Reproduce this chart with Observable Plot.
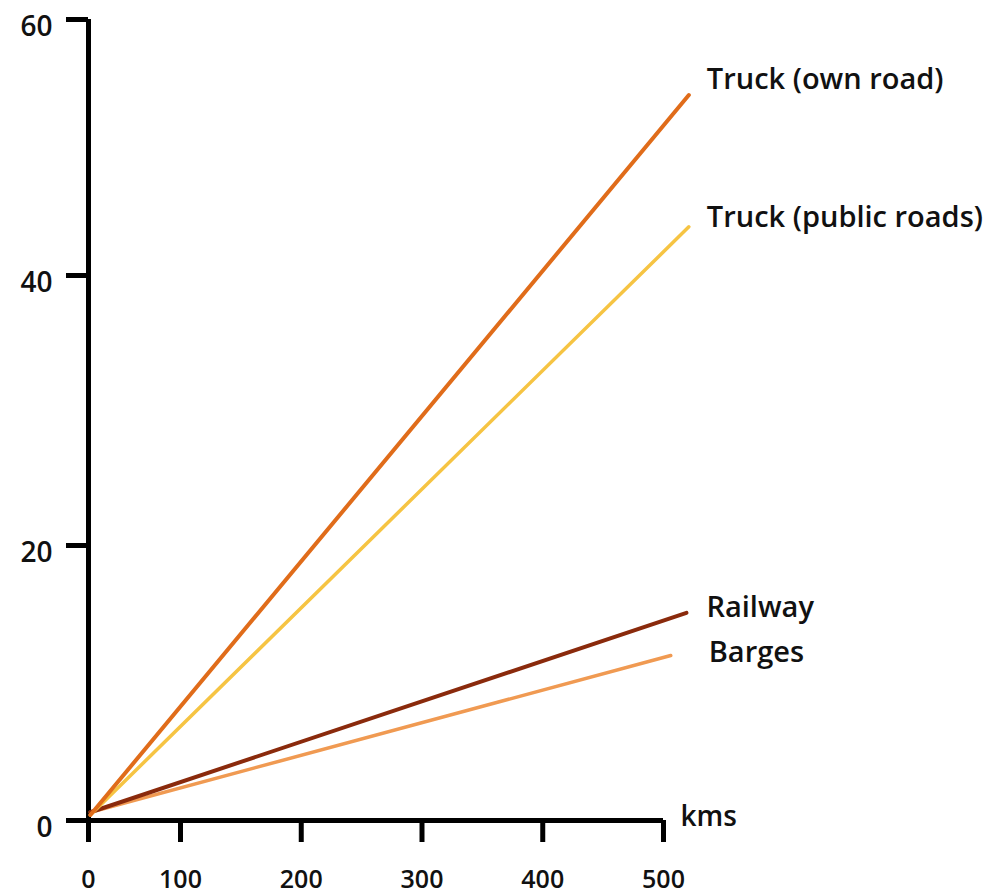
<!DOCTYPE html>
<html><head><meta charset="utf-8">
<script src="https://cdn.jsdelivr.net/npm/d3@7"></script>
<script src="https://cdn.jsdelivr.net/npm/@observablehq/plot@0.6"></script>
<style>body{margin:0;background:#fff} svg{display:block}</style>
</head><body><div id="chart"></div>
<script>
// ---- data ----
const series = ["Truck (own road)", "Truck (public roads)", "Railway", "Barges"];
const startKm = [2, 2, 2, 2];
const startCost = [0.4, 0.4, 0.6, 0.6];
const endKm = [521, 521, 519, 506];
const endCost = [54.1, 43.8, 15.1, 12.0];
const xTicks = [0, 100, 200, 300, 400, 500];
const yTicks = [0, 20, 40, 60];
const xUnit = ["kms"];

// ---- styles / layout ----
const colors = ["#e06c1a", "#f6c443", "#8a2a0c", "#f09a52"];
const widths = [4, 3.5, 4, 3.5];
const labelDx = [18, 18, 20, 38];
const labelDy = [-15, -9, -5, -3];

const lineData = series.flatMap((s, i) => [
  {series: s, km: startKm[i], cost: startCost[i]},
  {series: s, km: endKm[i], cost: endCost[i]}
]);
const ends = series.map((s, i) => ({series: s, km: endKm[i], cost: endCost[i]}));

const order = [3, 2, 1, 0];
const marks = [];
for (const i of order) {
  marks.push(Plot.line(lineData.filter(d => d.series === series[i]), {
    x: "km", y: "cost", stroke: colors[i], strokeWidth: widths[i], strokeLinecap: "round"
  }));
}
for (let i = 0; i < series.length; i++) {
  marks.push(Plot.text([ends[i]], {
    x: "km", y: "cost", text: "series", textAnchor: "start",
    dx: labelDx[i], dy: labelDy[i], fontSize: 29, fontWeight: 600, fill: "#111"
  }));
}

const chart = Plot.plot({
  width: 992, height: 896,
  marginTop: 19, marginLeft: 88, marginRight: 329, marginBottom: 76,
  x: {type: "linear", domain: [0, 100, 500], range: [88, 180, 663]},
  y: {type: "linear", domain: [0, 20, 40, 60], range: [820, 545, 275, 19]},
  style: {fontFamily: "'Open Sans', sans-serif", color: "#111", background: "#fff"},
  marks: [
    Plot.ruleX([0], {y1: 0, y2: 60, strokeWidth: 5, stroke: "#000"}),
    Plot.ruleY([0], {x1: 0, x2: 500, strokeWidth: 5, stroke: "#000"}),
    Plot.axisY(yTicks, {tickSize: 22, strokeWidth: 5, stroke: "#000", text: null, label: null}),
    Plot.axisY(yTicks, {tickSize: 0, tickPadding: 36, fontSize: 28, fontWeight: 600,
      dy: 8, label: null, fill: "#111"}),
    Plot.axisX(xTicks, {tickSize: 22, strokeWidth: 5, stroke: "#000", text: null, label: null}),
    Plot.axisX(xTicks, {tickSize: 0, tickPadding: 50, fontSize: 25, fontWeight: 600,
      label: null, fill: "#111"}),
    Plot.text(xUnit, {x: 500, y: 0, text: d => d, textAnchor: "start", dx: 17, dy: -3,
      fontSize: 28, fontWeight: 600, fill: "#111"}),
    ...marks
  ]
});
document.getElementById("chart").append(chart);
</script>
</body></html>
